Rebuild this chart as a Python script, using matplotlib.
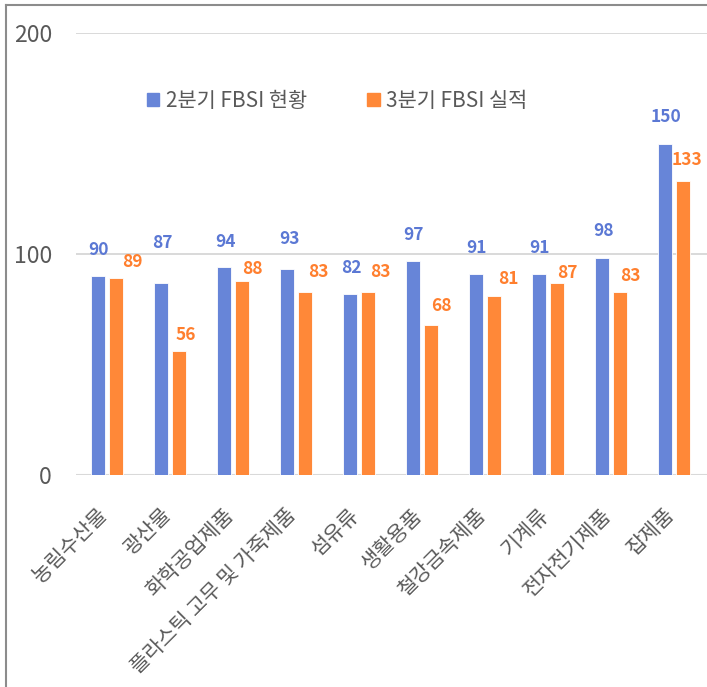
import matplotlib
matplotlib.use("Agg")
import matplotlib.pyplot as plt
import matplotlib.transforms as mtransforms
import numpy as np
from matplotlib.lines import Line2D
from matplotlib.patches import Patch

plt.rcParams['font.family'] = ['Noto Sans CJK KR', 'DejaVu Sans']

categories = ["농림수산물", "광산물", "화학공업제품", "플라스틱 고무 및 가죽제품", "섬유류",
              "생활용품", "철강금속제품", "기계류", "전자전기제품", "잡제품"]
q2_fbsi = [90, 87, 94, 93, 82, 97, 91, 91, 98, 150]
q3_fbsi = [89, 56, 88, 83, 83, 68, 81, 87, 83, 133]
series_names = ["2분기 FBSI 현황", "3분기 FBSI 실적"]
y_ticks = [0, 100, 200]

# label nudges (pixels), the source chart had them hand-placed
q2_dx = [1, 1, 1, 2, 1, 0, 0, 0, 1, 1]
q2_dy = [26, 40, 25, 30, 26, 26, 26, 26, 27, 26]
q3_dx = [16, 7, 10, 13, 12, 10, 14, 10, 10, 4]
q3_dy = [16, 16, 12, 20, 20, 19, 17, 10, 16, 21]

BLUE = "#6785d8"
ORANGE = "#ff8838"
BLUE_TXT = "#5b78d4"
ORANGE_TXT = "#ff7f2e"
GREY = "#595959"

fig = plt.figure(figsize=(7.07, 6.87), dpi=100)
ax = fig.add_axes([75.5 / 707, 1 - 475 / 687, (707 - 75.5) / 707, (475 - 33) / 687])

x = np.arange(len(categories))
w = 0.222
off = 0.143
ax.bar(x - off, q2_fbsi, w, color=BLUE, edgecolor="white", linewidth=0.6, zorder=3)
ax.bar(x + off, q3_fbsi, w, color=ORANGE, edgecolor="white", linewidth=0.6, zorder=3)

for i in range(len(categories)):
    ax.annotate(str(q2_fbsi[i]), (x[i] - off, q2_fbsi[i]), xytext=(q2_dx[i], q2_dy[i]),
                textcoords="offset pixels", ha="center", va="center",
                fontsize=12.5, fontweight="bold", color=BLUE_TXT, zorder=4)
    ax.annotate(str(q3_fbsi[i]), (x[i] + off, q3_fbsi[i]), xytext=(q3_dx[i], q3_dy[i]),
                textcoords="offset pixels", ha="center", va="center",
                fontsize=12.5, fontweight="bold", color=ORANGE_TXT, zorder=4)

ax.set_xlim(-0.5, len(categories) - 0.48)
ax.set_ylim(0, 200)
ax.set_yticks(y_ticks)
ax.set_yticklabels([str(t) for t in y_ticks], fontsize=16.5, color=GREY, fontweight="light")
ax.tick_params(axis="y", length=0, pad=17)
ax.set_xticks(x)
ax.set_xticklabels(categories, rotation=45, ha="right", va="top",
                   fontsize=15, color=GREY)
ax.tick_params(axis="x", length=0, pad=21)
shift = mtransforms.ScaledTranslation(5 / 100, 0, fig.dpi_scale_trans)
for lab in ax.get_xticklabels():
    lab.set_transform(lab.get_transform() + shift)

for t in (100, 200):
    ax.axhline(t, color="#d9d9d9", lw=1.4, zorder=1)
ax.axhline(0, color="#d9d9d9", lw=2.2, zorder=2)
for s in ax.spines.values():
    s.set_visible(False)

handles = [Patch(color=BLUE), Patch(color=ORANGE)]
fig.legend(handles, series_names, loc="center", bbox_to_anchor=(337 / 707, 1 - 101 / 687),
           ncol=2, frameon=False, fontsize=15, labelcolor=GREY,
           handlelength=0.6, handleheight=0.6, handletextpad=0.3, columnspacing=2.9)

# outer chart border (left and top visible in the source)
fig.add_artist(Line2D([5.5 / 707, 5.5 / 707], [0, 1 - 4.5 / 687], color="#8c8c8c", lw=1.5,
                      transform=fig.transFigure))
fig.add_artist(Line2D([5.5 / 707, 1], [1 - 4.5 / 687, 1 - 4.5 / 687], color="#8c8c8c", lw=1.5,
                      transform=fig.transFigure))

fig.savefig("out.png", dpi=100)
